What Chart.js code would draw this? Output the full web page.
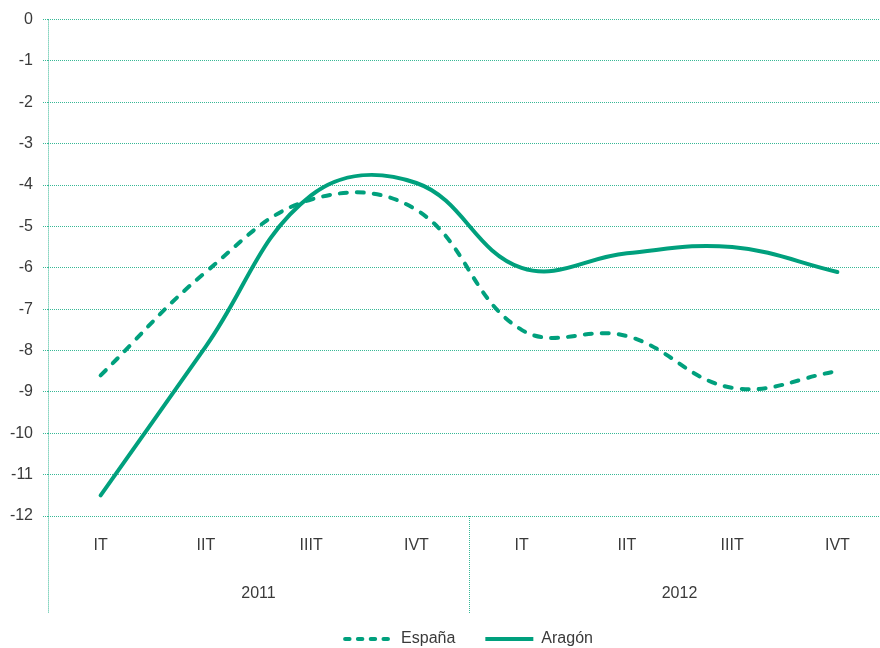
<!DOCTYPE html>
<html><head><meta charset="utf-8">
<script src="https://cdn.jsdelivr.net/npm/chart.js@4/dist/chart.umd.min.js"></script>
<style>html,body{margin:0;padding:0;overflow:hidden;background:#fff;width:880px;height:648px}#w{width:890px;height:648px;position:relative}</style>
</head><body><div id="w"><canvas id="c"></canvas></div>
<script>
const quarters = ['IT','IIT','IIIT','IVT','IT','IIT','IIIT','IVT'];
const years = ['2011','2012'];
const espana = [-8.6, -6.1, -4.35, -4.6, -7.5, -7.65, -8.9, -8.5];
const aragon = [-11.5, -7.9, -4.25, -3.95, -6.0, -5.65, -5.5, -6.1];
const yTicks = {min: -12, max: 0, step: 1};

const GREEN = '#00a07d';
const GRID = '#37b896';
const TEXT = '#3a3a3a';
const FONT = "'Liberation Sans', Arial, sans-serif";

const sepPlugin = {
  id: 'sep',
  afterDraw(chart) {
    const ctx = chart.ctx, x = chart.scales.x, ca = chart.chartArea;
    const bottom = ca.bottom + 97;
    const mid = (x.getPixelForValue(3) + x.getPixelForValue(4)) / 2;
    ctx.save();
    ctx.strokeStyle = GRID; ctx.lineWidth = 1; ctx.setLineDash([1,1]);
    ctx.beginPath();
    ctx.moveTo(ca.left + 0.5, ca.top); ctx.lineTo(ca.left + 0.5, bottom);
    ctx.moveTo(Math.round(mid) + 0.5, ca.bottom); ctx.lineTo(Math.round(mid) + 0.5, bottom);
    ctx.stroke();
    ctx.restore();
  }
};

new Chart(document.getElementById('c'), {
  type: 'line',
  data: {
    labels: quarters,
    datasets: [
      {label: 'España', data: espana, borderColor: GREEN, backgroundColor: 'transparent', borderWidth: 4, borderDash: [7,10], borderCapStyle: 'round', tension: 0.4, pointRadius: 0, fill: false},
      {label: 'Aragón', data: aragon, borderColor: GREEN, backgroundColor: 'transparent', borderWidth: 4, borderCapStyle: 'round', tension: 0.4, pointRadius: 0, fill: false}
    ]
  },
  options: {
    responsive: true, maintainAspectRatio: false, animation: false,
    layout: {padding: {top: 18, left: 0, right: 0, bottom: -9}},
    plugins: {
      tooltip: {enabled: false},
      legend: {
        position: 'bottom', fullSize: false,
        labels: {
          usePointStyle: true, pointStyleWidth: 48, boxWidth: 48, boxHeight: 10, padding: 30,
          color: TEXT, font: {family: FONT, size: 16},
          generateLabels(chart) {
            return chart.data.datasets.map((ds, i) => ({
              text: ds.label, datasetIndex: i, pointStyle: 'line',
              strokeStyle: ds.borderColor, fillStyle: ds.borderColor,
              lineWidth: 4, lineCap: i === 0 ? 'round' : 'butt',
              lineDash: i === 0 ? [4.5, 8.3] : [], fontColor: TEXT, hidden: false
            }));
          }
        }
      }
    },
    scales: {
      x: {
        type: 'category', position: 'bottom', offset: true,
        grid: {display: false, drawTicks: false}, border: {display: false},
        ticks: {color: TEXT, font: {family: FONT, size: 16}, padding: 20, maxRotation: 0},
        afterFit(s) { s.height = 37; }
      },
      year: {
        type: 'category', labels: years, position: 'bottom', offset: true,
        grid: {display: false, drawTicks: false}, border: {display: false},
        ticks: {color: TEXT, font: {family: FONT, size: 16}, padding: 31, maxRotation: 0},
        afterFit(s) { s.height = 48; }
      },
      y: {
        min: yTicks.min, max: yTicks.max,
        border: {display: false, dash: [1,1]},
        grid: {color: GRID, lineWidth: 1, tickLength: 5, tickBorderDash: [1,1], tickColor: GRID},
        ticks: {stepSize: yTicks.step, color: TEXT, font: {family: FONT, size: 16}, padding: 10},
        afterFit(s) { s.width = 48; }
      }
    }
  },
  plugins: [sepPlugin]
});
</script></body></html>
